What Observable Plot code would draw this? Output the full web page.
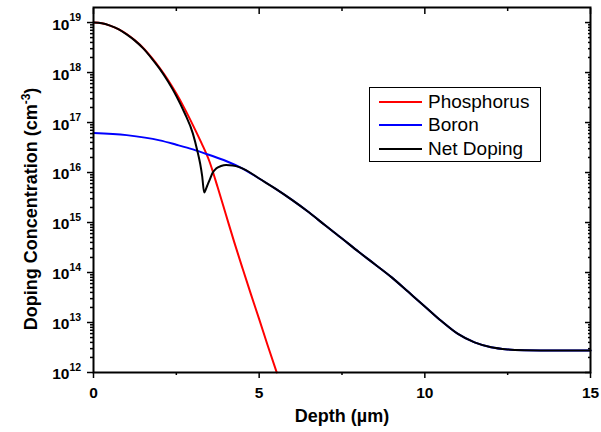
<!DOCTYPE html>
<html><head><meta charset="utf-8">
<script src="https://cdn.jsdelivr.net/npm/d3@7"></script>
<script src="https://cdn.jsdelivr.net/npm/@observablehq/plot@0.6"></script>
<style>
body{margin:0;background:#fff;font-family:"Liberation Sans",Arial,sans-serif;}
#wrap{position:relative;width:601px;height:432px;}
#legend{position:absolute;left:369px;top:87px;width:172px;height:75px;border:1px solid #000;background:#fff;box-sizing:border-box;}
.row{position:absolute;left:9px;height:24px;display:flex;align-items:center;font-size:19px;color:#000;white-space:nowrap;}
.sw{width:43px;height:0;border-top:2px solid;margin-right:6px;}
</style></head>
<body><div id="wrap"><div id="legend"></div></div>
<script>
// Phosphorus profile (depth µm, concentration cm^-3)
const phosDepth = [0,0.25,0.5,0.75,1.0,1.25,1.5,1.75,2.0,2.25,2.5,2.75,3.0,3.25,3.5,3.75,4.0,4.25,4.5,4.75,5.0,5.25,5.53];
const phosConc  = [1e19,9.7e18,8.7e18,7.4e18,5.9e18,4.4e18,3.1e18,2.0e18,1.23e18,7.1e17,3.8e17,1.9e17,8.9e16,4.0e16,1.66e16,5.0e15,1.41e15,4.0e14,1.2e14,3.7e13,1.17e13,3.6e12,1.0e12];
// Boron profile
const boronDepth = [0,1,2,2.5,3,3.5,4,4.5,5,5.5,6,6.5,7,7.5,8,8.5,9,9.5,10,10.5,11,11.5,12,12.5,13,14,15];
const boronConc  = [6.2e16,5.6e16,4.4e16,3.6e16,2.9e16,2.24e16,1.7e16,1.2e16,7.6e15,4.7e15,2.8e15,1.6e15,8.7e14,4.8e14,2.6e14,1.45e14,8e13,4.1e13,2.1e13,1.07e13,5.9e12,4.0e12,3.2e12,2.9e12,2.8e12,2.75e12,2.75e12];
// Net doping
const netDepth = [0,0.25,0.5,0.75,1.0,1.25,1.5,1.75,2.0,2.25,2.5,2.75,3.0,3.13,3.22,3.28,3.34,3.42,3.5,3.6,3.7,3.85,4.0,4.2,4.4,4.6,5,5.5,6,6.5,7,7.5,8,8.5,9,9.5,10,10.5,11,11.5,12,12.5,13,14,15];
const netConc  = [1e19,9.7e18,8.7e18,7.4e18,5.8e18,4.35e18,3.05e18,1.95e18,1.18e18,6.6e17,3.4e17,1.55e17,6.0e16,2.8e16,1.5e16,8.5e15,4.0e15,5.2e15,7.0e15,1.0e16,1.2e16,1.35e16,1.41e16,1.38e16,1.28e16,1.12e16,7.6e15,4.7e15,2.8e15,1.6e15,8.7e14,4.8e14,2.6e14,1.45e14,8e13,4.1e13,2.1e13,1.07e13,5.9e12,4.0e12,3.2e12,2.9e12,2.8e12,2.75e12,2.75e12];

const seriesNames = ["Phosphorus","Boron","Net Doping"];
const seriesColors = ["#ff0000","#0000ff","#000000"];

const xMajor = [0,5,10,15];
const xMinor = [2.5,7.5,12.5];
const yExponents = [12,13,14,15,16,17,18,19];
const yMajor = yExponents.map(e => 10 ** e);
const yMinor = yExponents.slice(0,-1).flatMap(e => [2,3,4,5,6,7,8,9].map(m => m * 10 ** e));

const zip = (xs, ys) => xs.map((d, i) => ({depth: d, conc: ys[i]}));
const phos = zip(phosDepth, phosConc);
const boron = zip(boronDepth, boronConc);
const net = zip(netDepth, netConc);

const font = "Liberation Sans, Arial, sans-serif";
const chart = Plot.plot({
  width: 601, height: 432,
  marginLeft: 93, marginRight: 11, marginTop: 7, marginBottom: 60,
  style: {fontFamily: font, background: "white", overflow: "visible", color: "#000"},
  x: {domain: [0, 15], axis: null, label: null},
  y: {type: "log", domain: [1e12, 2e19], axis: null, label: null},
  marks: [
    Plot.line(phos, {x: "depth", y: "conc", stroke: seriesColors[0], strokeWidth: 2, curve: "monotone-x"}),
    Plot.line(boron, {x: "depth", y: "conc", stroke: seriesColors[1], strokeWidth: 2, curve: "monotone-x"}),
    Plot.line(net, {x: "depth", y: "conc", stroke: seriesColors[2], strokeWidth: 2, curve: "monotone-x"}),
    // bottom axis (outward ticks)
    Plot.axisX({anchor: "bottom", ticks: xMajor, tickSize: 6, tickPadding: 8, tickFormat: d => String(d), fontSize: 15.5, fontWeight: "bold", strokeWidth: 1.5, label: null}),
    Plot.axisX({anchor: "bottom", ticks: xMinor, tickSize: 3, fill: "none", strokeWidth: 1.5, label: null}),
    // top axis (inward ticks)
    Plot.axisX({anchor: "top", ticks: xMajor, tickSize: 6, dy: 6, fill: "none", strokeWidth: 1.5, label: null}),
    Plot.axisX({anchor: "top", ticks: xMinor, tickSize: 3, dy: 3, fill: "none", strokeWidth: 1.5, label: null}),
    // left axis (outward ticks)
    Plot.axisY({anchor: "left", ticks: yMajor, tickSize: 6, fill: "none", strokeWidth: 1.5, label: null}),
    Plot.axisY({anchor: "left", ticks: yMinor, tickSize: 3, fill: "none", strokeWidth: 1.5, label: null}),
    // right axis (inward ticks)
    Plot.axisY({anchor: "right", ticks: yMajor, tickSize: 6, dx: -6, fill: "none", strokeWidth: 1.5, label: null}),
    Plot.axisY({anchor: "right", ticks: yMinor, tickSize: 3, dx: -3, fill: "none", strokeWidth: 1.5, label: null}),
    // y tick labels 10^n
    Plot.text(yExponents, {y: e => 10 ** e, text: () => "10", frameAnchor: "left", textAnchor: "end", dx: -24, dy: 2, fontSize: 15.5, fontWeight: "bold"}),
    Plot.text(yExponents, {y: e => 10 ** e, text: e => String(e), frameAnchor: "left", textAnchor: "start", dx: -24, dy: -5, fontSize: 10.5, fontWeight: "bold"}),
    Plot.frame({stroke: "#000", strokeWidth: 2}),
    // axis titles
    Plot.text(["Depth (µm)"], {frameAnchor: "bottom", dy: 49, fontSize: 18, fontWeight: "bold"}),
    Plot.text(["Doping Concentration (cm-3)"], {frameAnchor: "left", dx: -62, dy: 19, rotate: -90, fontSize: 18, fontWeight: "bold"})
  ]
});
document.getElementById("wrap").prepend(chart);

// superscript in y title, re-centred along its own axis
d3.select(chart).selectAll("text").filter(function(){ return this.textContent === "Doping Concentration (cm-3)"; })
  .each(function(){
    const t = d3.select(this);
    t.text("Doping Concentration (cm");
    t.append("tspan").attr("dy", "-7").attr("font-size", "12").text("-3");
    t.append("tspan").attr("dy", "7").text(")");
    const len = this.getComputedTextLength();
    t.attr("text-anchor", "start").attr("x", -len / 2);
  });

// legend
const legend = document.getElementById("legend");
const rowTops = [2, 25, 49];
seriesNames.forEach((name, i) => {
  const row = document.createElement("div");
  row.className = "row";
  row.style.top = rowTops[i] + "px";
  const sw = document.createElement("span");
  sw.className = "sw";
  sw.style.borderTopColor = seriesColors[i];
  const tx = document.createElement("span");
  tx.textContent = name;
  row.append(sw, tx);
  legend.append(row);
});
</script>
</body></html>
